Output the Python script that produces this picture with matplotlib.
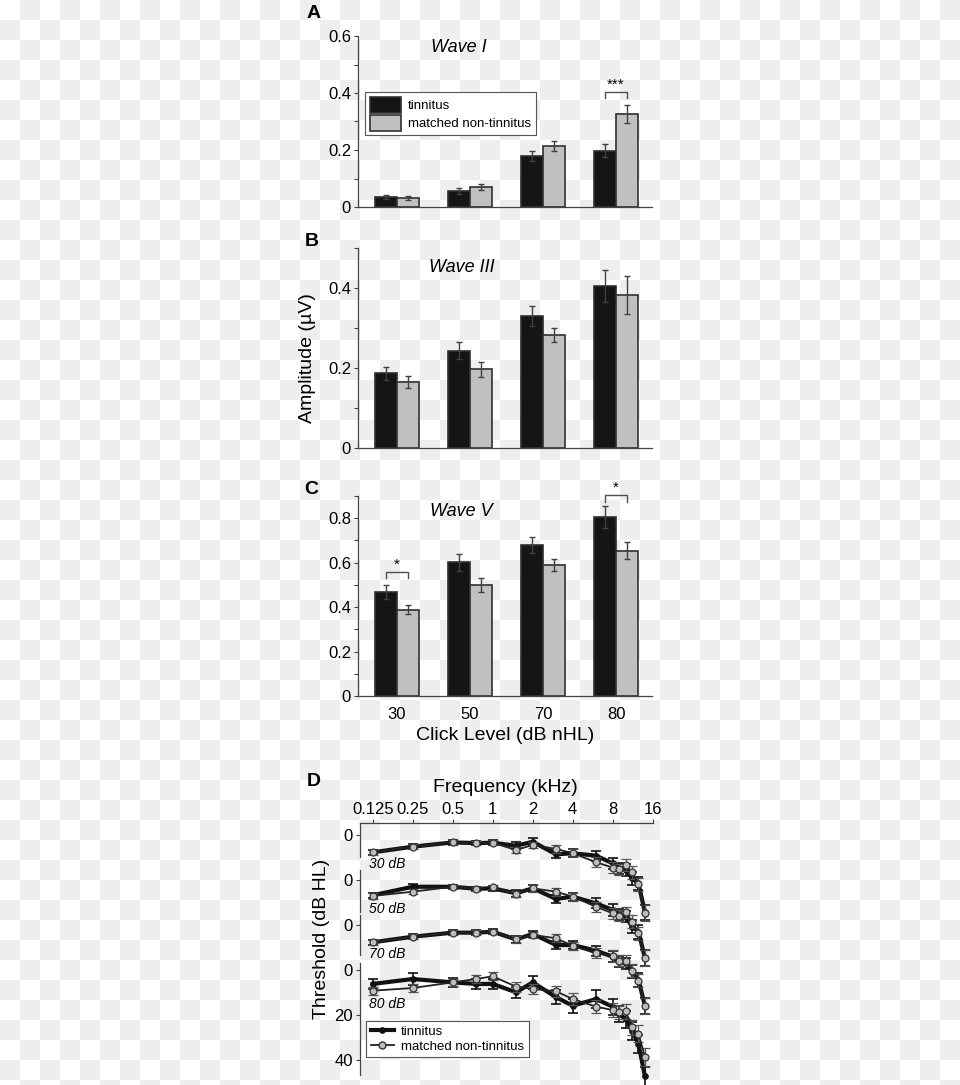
import numpy as np
import matplotlib
matplotlib.use('Agg')
import matplotlib.pyplot as plt
from matplotlib.patches import Patch
from matplotlib.lines import Line2D

plt.rcParams['font.family'] = ['Liberation Sans', 'DejaVu Sans']

W, H = 960, 1085

# ---- panels A-C: ABR wave amplitudes (uV) ----
levels = ['30', '50', '70', '80']
waveI_tin = [0.035, 0.056, 0.179, 0.198]
waveI_tin_err = [0.008, 0.011, 0.018, 0.024]
waveI_ctl = [0.032, 0.070, 0.213, 0.326]
waveI_ctl_err = [0.006, 0.012, 0.017, 0.032]

waveIII_tin = [0.187, 0.243, 0.329, 0.405]
waveIII_tin_err = [0.016, 0.021, 0.025, 0.040]
waveIII_ctl = [0.166, 0.197, 0.283, 0.382]
waveIII_ctl_err = [0.015, 0.019, 0.017, 0.048]

waveV_tin = [0.468, 0.601, 0.680, 0.804]
waveV_tin_err = [0.030, 0.040, 0.035, 0.050]
waveV_ctl = [0.388, 0.499, 0.589, 0.654]
waveV_ctl_err = [0.020, 0.033, 0.026, 0.037]

# ---- panel D: audiograms (dB HL) ----
freqs = [0.125, 0.25, 0.5, 0.75, 1, 1.5, 2, 3, 4, 6, 8, 9, 10, 11.2, 12.5, 14]
freq_ticks = [0.125, 0.25, 0.5, 1, 2, 4, 8, 16]
freq_ticklabels = ['0.125', '0.25', '0.5', '1', '2', '4', '8', '16']
curve_names = ['30 dB', '50 dB', '70 dB', '80 dB']
curve_offsets = [0, 20, 40, 60]
thr_tin = [
    [7.7, 5.2, 3.3, 3.6, 3.4, 4.8, 3.0, 8.6, 8.1, 9.2, 12.6, 14.8, 15.5, 19.3, 21.5, 34.4],
    [6.8, 3.0, 3.0, 3.9, 3.7, 5.9, 3.7, 8.4, 7.4, 10.4, 13.3, 15.3, 16.3, 20.7, 23.0, 34.7],
    [7.7, 5.2, 3.4, 3.4, 3.0, 6.4, 4.0, 8.9, 8.9, 11.4, 14.1, 16.3, 17.0, 20.7, 24.4, 36.0],
    [6.2, 4.0, 5.5, 6.2, 6.2, 9.9, 5.5, 12.1, 15.9, 12.9, 16.3, 19.6, 21.8, 27.0, 32.9, 47.3],
]
thr_tin_err = [
    [1.2, 1.2, 1.0, 1.0, 1.0, 1.5, 1.5, 1.8, 1.8, 2.2, 2.5, 2.5, 2.5, 2.8, 3.0, 3.5],
    [1.2, 1.2, 1.0, 1.0, 1.0, 1.5, 1.5, 1.8, 1.8, 2.2, 2.5, 2.5, 2.5, 2.8, 3.0, 3.5],
    [1.2, 1.2, 1.0, 1.0, 1.2, 1.5, 1.5, 1.8, 1.8, 2.2, 2.5, 2.5, 2.5, 2.8, 3.0, 3.5],
    [2.2, 2.5, 2.0, 2.2, 2.2, 2.5, 2.8, 3.0, 3.2, 3.8, 3.5, 3.5, 3.8, 4.0, 4.0, 4.2],
]
thr_ctl = [
    [7.7, 5.2, 3.3, 3.6, 3.4, 6.7, 4.4, 6.2, 8.1, 12.1, 14.5, 15.3, 13.3, 16.6, 21.9, 34.5],
    [7.1, 5.2, 3.0, 3.9, 3.0, 6.2, 3.7, 5.2, 7.4, 11.9, 14.8, 15.9, 14.4, 18.5, 23.7, 34.7],
    [7.7, 5.2, 3.4, 3.4, 3.0, 6.4, 4.4, 5.9, 9.3, 12.6, 13.8, 15.9, 15.9, 20.3, 24.7, 36.0],
    [9.2, 8.0, 5.5, 4.0, 2.8, 7.4, 8.4, 9.5, 12.9, 16.3, 17.8, 18.8, 18.4, 25.5, 28.4, 38.5],
]
thr_ctl_err = [
    [1.2, 1.2, 1.0, 1.0, 1.0, 1.5, 1.5, 1.8, 1.8, 2.2, 2.5, 2.5, 2.5, 2.8, 3.0, 3.5],
    [1.2, 1.2, 1.0, 1.0, 1.0, 1.5, 1.5, 1.8, 1.8, 2.2, 2.5, 2.5, 2.5, 2.8, 3.0, 3.5],
    [1.2, 1.2, 1.0, 1.0, 1.0, 1.5, 1.5, 1.8, 1.8, 2.2, 2.5, 2.5, 2.5, 2.8, 3.0, 3.5],
    [1.8, 1.8, 1.5, 1.8, 1.8, 2.2, 2.2, 2.5, 2.8, 3.0, 3.0, 3.0, 3.2, 3.5, 3.8, 4.0],
]

BLACK = '#151515'
GRAY = '#bfc0bf'
EDGE = '#303030'


def px_axes(fig, left, top, right, bottom):
    return fig.add_axes([left / W, 1 - bottom / H, (right - left) / W, (bottom - top) / H])


def ftext(fig, x, y, s, **kw):
    fig.text(x / W, 1 - y / H, s, ha='center', va='center', **kw)


fig = plt.figure(figsize=(W / 100, H / 100), dpi=100)

# checkerboard "transparency" backdrop
rows, cols = np.indices((H, W))
checker = np.where(((rows // 20) + (cols // 20)) % 2 == 1, 0.933, 1.0)
fig.figimage(checker, xo=0, yo=0, cmap='gray', vmin=0, vmax=1, origin='upper', zorder=-10)


def bar_panel(ax, tin, tin_err, ctl, ctl_err, ymax):
    x = np.arange(len(levels))
    w = 0.3
    ekw = dict(ecolor='#404040', elinewidth=1.0, capsize=2.2, capthick=1.0)
    ax.bar(x - w / 2, tin, w, color=BLACK, edgecolor=EDGE, linewidth=1.2,
           yerr=tin_err, error_kw=ekw, label='tinnitus', zorder=2)
    ax.bar(x + w / 2, ctl, w, color=GRAY, edgecolor=EDGE, linewidth=1.2,
           yerr=ctl_err, error_kw=ekw, label='matched non-tinnitus', zorder=2)
    ax.set_xlim(-0.534, 3.493)
    ax.set_ylim(0, ymax)
    ax.set_facecolor('none')
    for s in ['top', 'right']:
        ax.spines[s].set_visible(False)
    for s in ['left', 'bottom']:
        ax.spines[s].set_color('#444444')
        ax.spines[s].set_linewidth(0.9)
    ticks = np.arange(0, ymax + 1e-6, 0.1)
    ax.set_yticks(ticks)
    ax.set_yticklabels(['0' if abs(v) < 1e-9 else (f'{v:.1f}' if round(v * 10) % 2 == 0 else '')
                        for v in ticks])
    ax.tick_params(axis='y', direction='out', length=3, width=0.8, color='#444444',
                   labelsize=12, pad=2)
    ax.set_xticks([])
    return x, w


def bracket(ax, x0, x1, y, drop, stars):
    ax.plot([x0, x0, x1, x1], [y - drop, y, y, y - drop], color='#505050', lw=1.0,
            clip_on=False, zorder=3)
    ax.text((x0 + x1) / 2, y, stars, ha='center', va='bottom', fontsize=11, clip_on=False)


# Panel A
axA = px_axes(fig, 358, 36, 652, 207)
x, w = bar_panel(axA, waveI_tin, waveI_tin_err, waveI_ctl, waveI_ctl_err, 0.6)
bracket(axA, 3 - w / 2, 3 + w / 2, 0.4046, 0.021, '***')
axA.legend(handles=[Patch(facecolor=BLACK, edgecolor=EDGE, linewidth=1.2, label='tinnitus'),
                    Patch(facecolor=GRAY, edgecolor=EDGE, linewidth=1.2, label='matched non-tinnitus')],
           loc='upper left', bbox_to_anchor=(7 / 294, (207 - 92) / 171), fontsize=9.5,
           frameon=True, fancybox=False, edgecolor='#555555', framealpha=1,
           handlelength=2.4, handleheight=1.5, handletextpad=0.5, labelspacing=0.15,
           borderpad=0.35, borderaxespad=0)
axA.get_legend().get_frame().set_linewidth(0.8)

# Panel B
axB = px_axes(fig, 358, 248, 652, 448)
bar_panel(axB, waveIII_tin, waveIII_tin_err, waveIII_ctl, waveIII_ctl_err, 0.5)

# Panel C
axC = px_axes(fig, 358, 496, 652, 696)
bar_panel(axC, waveV_tin, waveV_tin_err, waveV_ctl, waveV_ctl_err, 0.9)
axC.set_xticks(x)
axC.set_xticklabels(levels)
axC.tick_params(axis='x', length=0, labelsize=12, pad=8)
bracket(axC, 0 - w / 2, 0 + w / 2, 0.559, 0.03, '*')
bracket(axC, 3 - w / 2, 3 + w / 2, 0.905, 0.033, '*')

# Panel D
axD = px_axes(fig, 360, 823, 652.7, 1085)
axD.set_facecolor('none')
axD.set_xscale('log', base=2)
axD.set_xlim(0.1003, 16)
axD.set_ylim((1085 - 835) / 2.25, (823 - 835) / 2.25)
for i, off in enumerate(curve_offsets):
    yt = np.array(thr_tin[i]) + off
    yc = np.array(thr_ctl[i]) + off
    axD.errorbar(freqs, yt, yerr=thr_tin_err[i], color='#111111', lw=3.0, marker='o', ms=3.8,
                 mfc='#111111', mec='#111111', ecolor='#111111', elinewidth=1.2, capsize=3.5,
                 capthick=1.2, zorder=3, clip_on=False)
    axD.errorbar(freqs, yc, yerr=thr_ctl_err[i], color='#222222', lw=1.3, marker='o', ms=5,
                 mfc='#bdbdbd', mec='#333333', mew=0.9, ecolor='#555555', elinewidth=1.0,
                 capsize=3.5, capthick=1.0, zorder=4, clip_on=False)
    axD.text(0.118, off + (15 if i == 3 else 13), curve_names[i], fontsize=10, style='italic',
             ha='left', va='center')
axD.xaxis.set_ticks_position('top')
axD.set_xticks(freq_ticks)
axD.set_xticklabels(freq_ticklabels)
axD.xaxis.set_minor_locator(matplotlib.ticker.NullLocator())
axD.tick_params(axis='x', direction='out', length=3, width=0.8, color='#444444', labelsize=12, pad=1.5)
axD.set_yticks([0, 20, 40, 60, 80, 100])
axD.set_yticklabels(['0', '0', '0', '0', '20', '40'])
axD.tick_params(axis='y', direction='out', length=3, width=0.8, color='#444444', labelsize=12, pad=2)
for s in ['right', 'bottom', 'left']:
    axD.spines[s].set_visible(False)
axD.spines['top'].set_color('#444444')
axD.spines['top'].set_linewidth(0.9)
for y0, y1 in [(-5.4, 9.8), (15.6, 34.2), (35.6, 53.3), (56.9, 106.7)]:
    axD.plot([0, 0], [y0, y1], transform=axD.get_yaxis_transform(), color='#444444',
             lw=0.9, clip_on=False)
axD.legend(handles=[Line2D([], [], color='#111111', lw=3.0, marker='o', ms=3.8, label='tinnitus'),
                    Line2D([], [], color='#222222', lw=1.3, marker='o', ms=5, mfc='#bdbdbd',
                           mec='#333333', label='matched non-tinnitus')],
           loc='upper left', bbox_to_anchor=(6 / 292.7, (1085 - 1021) / 262), fontsize=9.5,
           frameon=True, fancybox=False, edgecolor='#555555', framealpha=1,
           handlelength=1.8, handletextpad=0.5, labelspacing=0.2, borderpad=0.35,
           borderaxespad=0)
axD.get_legend().get_frame().set_linewidth(0.8)

# titles and labels
ftext(fig, 459, 48, 'Wave I', fontsize=13, style='italic')
ftext(fig, 462, 267, 'Wave III', fontsize=13, style='italic')
ftext(fig, 461, 512, 'Wave V', fontsize=13, style='italic')
ftext(fig, 314, 14, 'A', fontsize=14, fontweight='bold')
ftext(fig, 312, 242, 'B', fontsize=14, fontweight='bold')
ftext(fig, 311, 489, 'C', fontsize=14, fontweight='bold')
ftext(fig, 314, 781, 'D', fontsize=14, fontweight='bold')
ftext(fig, 308, 358, 'Amplitude (\u00b5V)', fontsize=14, rotation=90)
ftext(fig, 505, 735, 'Click Level (dB nHL)', fontsize=14)
ftext(fig, 505, 788, 'Frequency (kHz)', fontsize=14)
ftext(fig, 322, 939, 'Threshold (dB HL)', fontsize=14, rotation=90)

fig.savefig('out.png', dpi=100)
